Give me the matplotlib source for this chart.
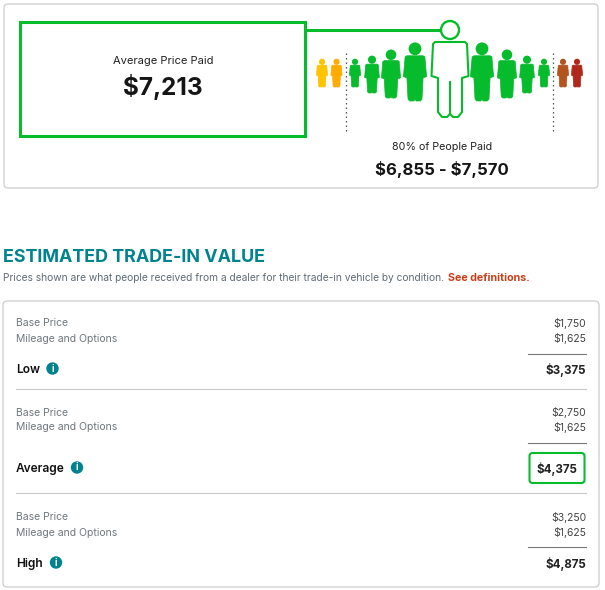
import matplotlib
matplotlib.use("Agg")
import matplotlib.pyplot as plt
from matplotlib.patches import Rectangle, FancyBboxPatch, Polygon, Circle

plt.rcParams['font.family'] = ['Inter', 'DejaVu Sans']
plt.rcParams['text.parse_math'] = False

W, H = 605, 590
GREEN = '#06BB2C'
TEAL = '#00838F'

avg_label = 'Average Price Paid'
avg_value = '$7,213'
range_label = '80% of People Paid'
range_value = '$6,855 - $7,570'

people_x = [322, 336.5, 355, 372, 391, 415, 482, 507, 527, 544, 563, 577]
people_top = [59, 59, 59, 56, 50, 43, 43, 50, 56, 59, 59, 59]
people_bottom = [87, 87, 87, 93, 98, 101, 101, 98, 93, 87, 87, 87]
people_colors = ['#FFC400', '#FFAB00', GREEN, GREEN, GREEN, GREEN, GREEN, GREEN, GREEN, GREEN, '#B3541E', '#B0281A']

row_labels = ['Base Price', 'Mileage and Options']
conditions = ['Low', 'Average', 'High']
base_prices = ['$1,750', '$2,750', '$3,250']
mileage = ['$1,625', '$1,625', '$1,625']
totals = ['$3,375', '$4,375', '$4,875']
row1_y = [323.5, 412.5, 517.5]
row2_y = [338.5, 427.5, 532.5]
rule_y = [354, 443, 547]
total_y = [370, 469, 564]
sep_y = [389, 493]
info_x = [52.5, 77, 56]

BODY = [(-.14, .22), (.14, .22), (.17, .24), (.2, .58), (.14, .6), (.12, .97),
        (.09, 1), (.02, 1), (0, .97), (-.02, 1), (-.09, 1), (-.12, .97), (-.14, .6),
        (-.2, .58), (-.17, .24)]


def person(ax, cx, top, bottom, color):
    h = bottom - top
    pts = [(cx + px * h, top + py * h) for px, py in BODY]
    ax.add_patch(Polygon(pts, closed=True, fc=color, ec=color, lw=.5, joinstyle='round', zorder=3))
    ax.add_patch(Circle((cx, top + .1 * h), .11 * h, fc=color, ec='none', zorder=3))


def card(ax, x0, y0, x1, y1):
    ax.add_patch(FancyBboxPatch((x0 + 3, y0 + 3), x1 - x0 - 6, y1 - y0 - 6,
                                boxstyle='round,pad=3,rounding_size=4',
                                fc='white', ec='#CCCCCC', lw=.9, zorder=1))


def txt(ax, x, y, s, size, color='#222222', weight='normal', ha='left'):
    return ax.text(x, y, s, fontsize=size, color=color, fontweight=weight, ha=ha, va='center', zorder=5)


fig = plt.figure(figsize=(W / 100, H / 100), dpi=100, facecolor='white')
ax = fig.add_axes([0, 0, 1, 1])
ax.set_xlim(0, W)
ax.set_ylim(H, 0)
ax.axis('off')

# Top card
card(ax, 4, 4, 598, 188)
ax.add_patch(Rectangle((20, 21.5), 285, 114, fc='white', ec=GREEN, lw=2.2, zorder=3))
txt(ax, 163, 61, avg_label, 8, ha='center')
txt(ax, 163, 87, avg_value, 17.5, '#151515', 'bold', 'center')
ax.plot([305, 441], [30, 30], color=GREEN, lw=2.2, zorder=2, solid_capstyle='butt')

for x, t, b, c in zip(people_x, people_top, people_bottom, people_colors):
    person(ax, x, t, b, c)

# central outlined figure
ax.add_patch(Circle((450, 30), 9, fc='white', ec=GREEN, lw=1.7, zorder=4))
big = [(-15, 42), (15, 42), (17, 44), (18.5, 76), (12, 78), (12, 112), (8, 117), (3, 117), (0, 114),
       (-3, 117), (-8, 117), (-12, 112), (-12, 78), (-18.5, 76), (-17, 44)]
ax.add_patch(Polygon([(450 + a, b) for a, b in big], closed=True, fc='white', ec=GREEN, lw=1.5,
                     joinstyle='round', zorder=4))
ax.plot([450, 450], [82, 114], color=GREEN, lw=1.5, zorder=5)

for x in (345.5, 552.5):
    ax.plot([x, x], [53, 132], color='#555555', lw=.9, ls=(0, (1.2, 2.4)), zorder=2)

txt(ax, 442, 147, range_label, 7.7, ha='center')
txt(ax, 442, 169, range_value, 12.1, '#151515', 'bold', 'center')

# Heading
txt(ax, 3, 258, 'ESTIMATED TRADE-IN VALUE', 12.9, TEAL, 'bold')
t1 = txt(ax, 3, 278, 'Prices shown are what people received from a dealer for their trade-in vehicle by condition. ', 7.35, '#5F6B76')
fig.canvas.draw()
bb = t1.get_window_extent()
txt(ax, bb.x1 + 1, 278, 'See definitions.', 7.7, '#C8401A', 'bold')

# Table card
card(ax, 3, 301, 599, 587)
for i, cond in enumerate(conditions):
    txt(ax, 16, row1_y[i], row_labels[0], 7.5, '#6F7780')
    txt(ax, 16, row2_y[i], row_labels[1], 7.5, '#6F7780')
    txt(ax, 586, row1_y[i], base_prices[i], 7.5, '#444444', ha='right')
    txt(ax, 586, row2_y[i], mileage[i], 7.5, '#444444', ha='right')
    ax.plot([528, 586], [rule_y[i], rule_y[i]], color='#777777', lw=.8, zorder=2)
    txt(ax, 16, total_y[i], cond, 8.6, '#111111', 'semibold')
    txt(ax, 586 if i != 1 else 577, total_y[i], totals[i], 8.3, '#222222', 'bold', 'right')
    ax.add_patch(Circle((info_x[i], total_y[i] - 1.5), 6.2, fc=TEAL, ec='none', zorder=4))
    ax.text(info_x[i], total_y[i] - 1.5, 'i', color='white', fontsize=7, fontweight='bold',
            ha='center', va='center', zorder=5)
for y in sep_y:
    ax.plot([16, 586], [y, y], color='#C8C8C8', lw=.8, zorder=2)

ax.add_patch(FancyBboxPatch((530.5, 454), 53, 28, boxstyle='round,pad=1,rounding_size=3',
                            fc='none', ec=GREEN, lw=1.5, zorder=4))

fig.savefig('out.png', dpi=100, facecolor='white')
